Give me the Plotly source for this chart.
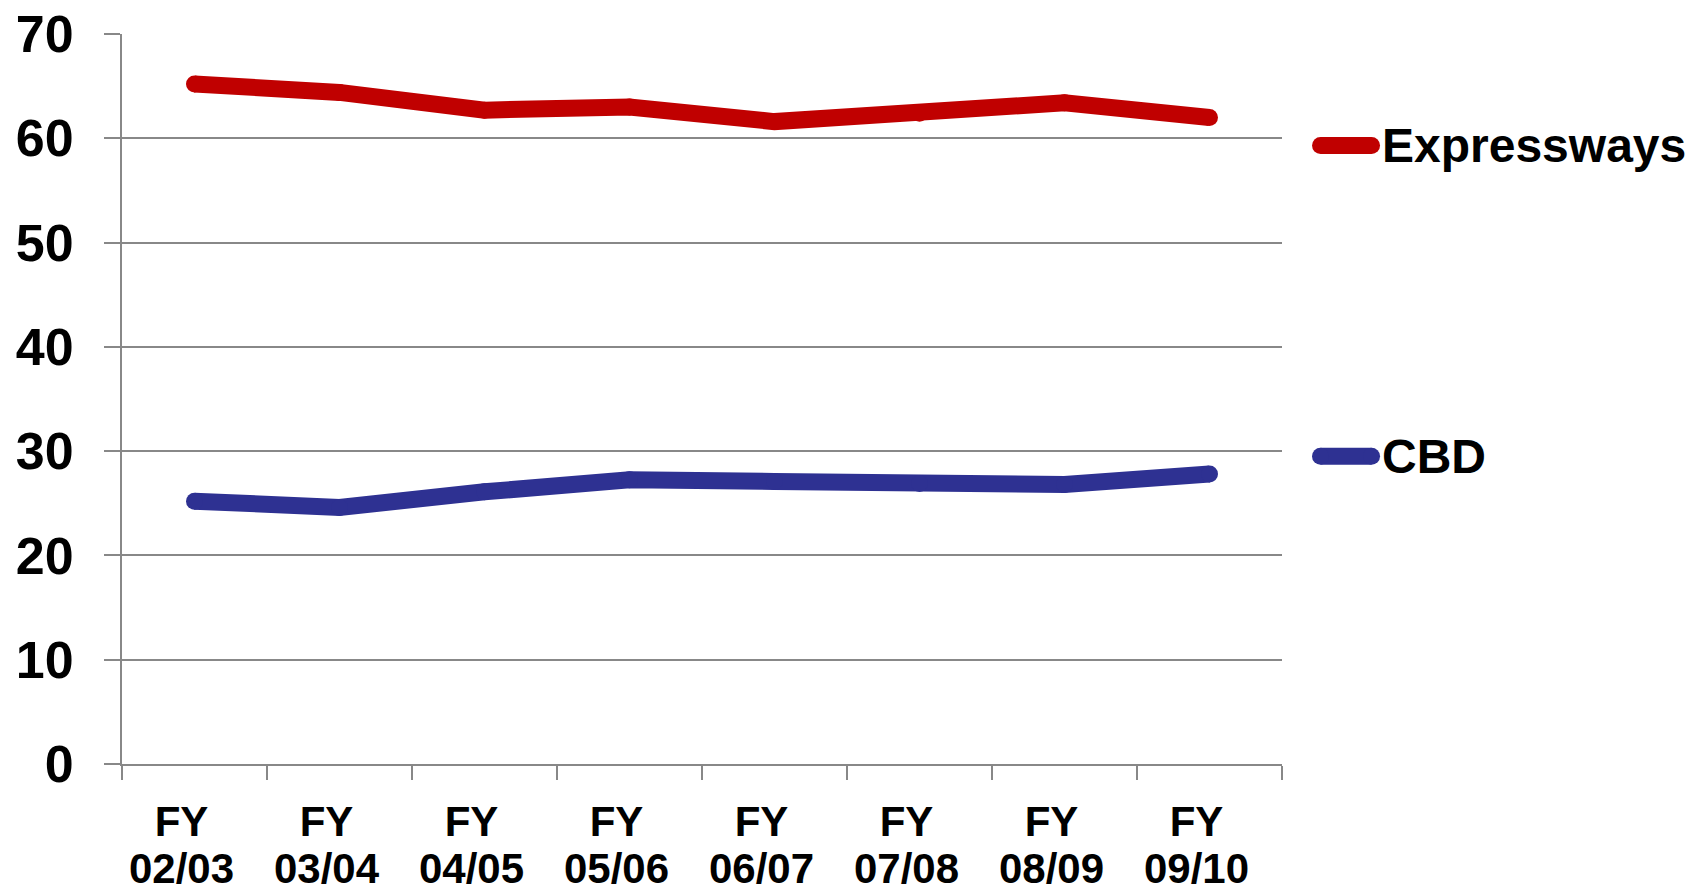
import plotly.graph_objects as go

# Fiscal years on the category axis
years = ["02/03", "03/04", "04/05", "05/06", "06/07", "07/08", "08/09", "09/10"]

# Series values
expressways = [65.2, 64.4, 62.7, 63.0, 61.6, 62.4, 63.4, 62.0]
cbd = [25.2, 24.6, 26.1, 27.25, 27.1, 26.9, 26.8, 27.8]

series_names = ["Expressways", "CBD"]
series_values = [expressways, cbd]
series_colors = ["#C00000", "#2E3192"]

y_ticks = [0, 10, 20, 30, 40, 50, 60, 70]

FONT = "Liberation Sans, Arial, sans-serif"
GRID = "#888888"
LW = 17

fig = go.Figure()
for name, vals, col in zip(series_names, series_values, series_colors):
    fig.add_trace(go.Scatter(
        x=years, y=vals, name=name,
        mode="lines+markers",
        line=dict(color=col, width=LW),
        marker=dict(color=col, size=LW, line=dict(width=0)),
        showlegend=False, hoverinfo="skip",
    ))

# Legend drawn beside the plot: rounded line key + label, placed at the series level
legend_y = [59.3, 29.5]
x_key0, x_key1, x_text = 1.0332, 1.0772, 1.0845
for name, ly, col in zip(series_names, legend_y, series_colors):
    fig.add_shape(type="line", xref="paper", yref="y", x0=x_key0, x1=x_key1,
                  y0=ly, y1=ly, line=dict(color=col, width=17))
    for xa in (x_key0, x_key1):
        fig.add_shape(type="circle", xref="paper", yref="y",
                      xsizemode="pixel", ysizemode="pixel",
                      xanchor=xa, yanchor=ly, x0=-8.5, x1=8.5, y0=-8.5, y1=8.5,
                      fillcolor=col, line=dict(width=0))
    fig.add_annotation(x=x_text, y=ly, xref="paper", yref="y", text=name,
                       showarrow=False, xanchor="left", yanchor="middle",
                       font=dict(family=FONT, size=48, color="black", weight="bold"))

fig.update_layout(
    width=1695, height=893,
    margin=dict(l=122, r=413, t=34, b=129, pad=0),
    paper_bgcolor="white", plot_bgcolor="white",
    showlegend=False,
    xaxis=dict(
        type="category", automargin=False,
        range=[-0.5, len(years) - 0.5],
        tickmode="array", tickvals=years,
        ticktext=[f"<span style='font-size:42px'>FY</span><br><span style='font-size:42px'>{y}</span>" for y in years],
        tickson="boundaries", ticks="outside", ticklen=14, tickwidth=2, tickcolor=GRID,
        showline=True, linecolor=GRID, linewidth=2, showgrid=False, zeroline=False,
        tickfont=dict(family=FONT, size=36, color="black", weight="bold"),
        ticklabelstandoff=27, ticklabelshift=-13,
    ),
    yaxis=dict(
        automargin=False,
        range=[0, 70], tickmode="array", tickvals=y_ticks,
        ticktext=[str(v) for v in y_ticks],
        ticks="outside", ticklen=16, tickwidth=2, tickcolor=GRID,
        showline=True, linecolor=GRID, linewidth=2,
        showgrid=True, gridcolor=GRID, gridwidth=2, zeroline=False,
        tickfont=dict(family=FONT, size=52, color="black", weight="bold"),
        ticklabelstandoff=20,
    ),
)

fig.write_html("out.html")
